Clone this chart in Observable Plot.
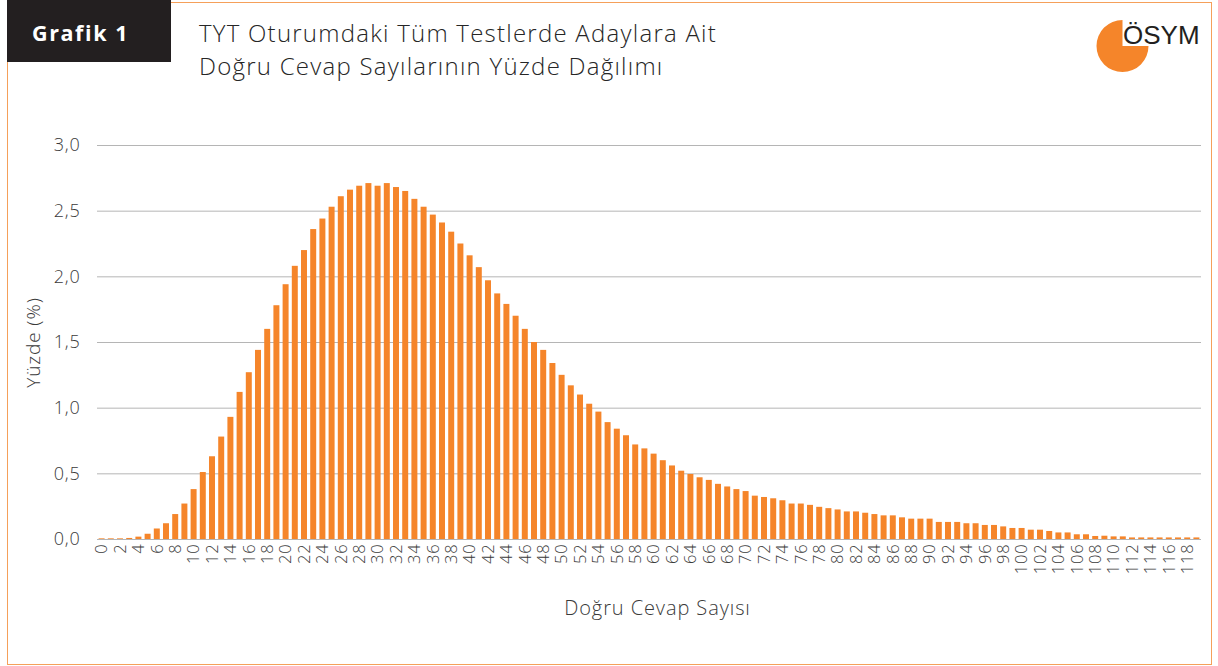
<!DOCTYPE html>
<html><head><meta charset="utf-8">
<script src="https://cdn.jsdelivr.net/npm/d3@7"></script>
<script src="https://cdn.jsdelivr.net/npm/@observablehq/plot@0.6"></script>
<style>
body{margin:0;background:#fff;font-family:"Open Sans",Lato,sans-serif;}
#page{position:relative;width:1218px;height:666px;overflow:hidden;background:#fff;}
#frame{position:absolute;left:7px;top:2px;width:1205px;height:663px;border:1.5px solid #f5a05a;box-sizing:border-box;}
#badge{position:absolute;left:7px;top:0;width:164px;height:62px;background:#231f20;}
#badgeText{position:absolute;left:32px;top:19px;color:#fff;font-weight:700;font-size:21.5px;line-height:28px;letter-spacing:1.6px;white-space:nowrap;}
.title{position:absolute;left:199px;font-size:24px;line-height:33px;color:#262626;font-weight:300;letter-spacing:1.24px;white-space:nowrap;}
#t1{top:15.5px;}
#t2{top:48.7px;}
#chart{position:absolute;left:0;top:100px;}
#logo{position:absolute;left:0;top:0;}
</style></head>
<body>
<div id="page">
  <div id="frame"></div>
  <div id="badge"></div>
  <div id="badgeText">Grafik 1</div>
  <div class="title" id="t1">TYT Oturumdaki Tüm Testlerde Adaylara Ait</div>
  <div class="title" id="t2">Doğru Cevap Sayılarının Yüzde Dağılımı</div>
  <svg id="logo" width="1218" height="90">
    <path d="M1122.5,46 L1122.5,20 A26,26 0 1 0 1148.5,46 Z" fill="#f5852a"></path>
    <text x="1123" y="43.5" font-family="'Liberation Sans',Arial,sans-serif" font-size="26" fill="#231f20">ÖSYM</text>
  </svg>
  <div id="chart"></div>
</div>
<script>
const yLabel = "Yüzde (%)";
const xLabel = "Doğru Cevap Sayısı";

// categories: number of correct answers 0..119
const categories = [
  0,1,2,3,4,5,6,7,8,9,10,11,12,13,14,15,16,17,18,19,
  20,21,22,23,24,25,26,27,28,29,30,31,32,33,34,35,36,37,38,39,
  40,41,42,43,44,45,46,47,48,49,50,51,52,53,54,55,56,57,58,59,
  60,61,62,63,64,65,66,67,68,69,70,71,72,73,74,75,76,77,78,79,
  80,81,82,83,84,85,86,87,88,89,90,91,92,93,94,95,96,97,98,99,
  100,101,102,103,104,105,106,107,108,109,110,111,112,113,114,115,116,117,118,119
];
// percentage of candidates
const percents = [
  0.005,0.005,0.005,0.008,0.018,0.04,0.08,0.12,0.19,0.27,
  0.38,0.51,0.63,0.78,0.93,1.12,1.27,1.44,1.60,1.78,
  1.94,2.08,2.20,2.36,2.44,2.53,2.61,2.66,2.69,2.71,
  2.69,2.71,2.68,2.65,2.59,2.53,2.47,2.41,2.34,2.25,
  2.16,2.07,1.97,1.87,1.79,1.70,1.60,1.50,1.44,1.34,
  1.25,1.17,1.10,1.03,0.97,0.89,0.84,0.79,0.72,0.69,
  0.65,0.60,0.56,0.52,0.495,0.47,0.45,0.42,0.40,0.38,
  0.365,0.33,0.32,0.31,0.295,0.27,0.27,0.26,0.245,0.235,
  0.225,0.21,0.21,0.20,0.19,0.18,0.18,0.165,0.155,0.155,
  0.155,0.13,0.13,0.13,0.12,0.12,0.107,0.107,0.096,0.084,
  0.084,0.071,0.071,0.061,0.05,0.05,0.036,0.036,0.023,0.025,
  0.02,0.02,0.012,0.012,0.012,0.012,0.012,0.012,0.012,0.012
];
// x tick positions and labels (every other category)
const xTicks = [0,2,4,6,8,10,12,14,16,18,20,22,24,26,28,30,32,34,36,38,40,42,44,46,48,50,52,54,56,58,60,62,64,66,68,70,72,74,76,78,80,82,84,86,88,90,92,94,96,98,100,102,104,106,108,110,112,114,116,118];
const xTickLabels = ["0","2","4","6","8","10","12","14","16","18","20","22","24","26","28","30","32","34","36","38","40","42","44","46","48","50","52","54","56","58","60","62","64","66","68","70","72","74","76","78","80","82","84","86","88","90","92","94","96","98","100","102","104","106","108","110","112","114","116","118"];
const yTicks = [0,0.5,1,1.5,2,2.5,3];
const yTickLabels = ["0,0","0,5","1,0","1,5","2,0","2,5","3,0"];

const data = categories.map((c,i)=>({k:c, v:percents[i]}));

const chart = Plot.plot({
  width: 1218, height: 540,
  marginLeft: 97, marginRight: 17, marginTop: 45, marginBottom: 101,
  style: {fontFamily: "'Open Sans', Lato, sans-serif", color: "#3a3a3a", background: "transparent", overflow: "visible"},
  x: {type: "band", domain: categories, paddingInner: 0.35, paddingOuter: 0.175, round: false},
  y: {domain: [0, 3]},
  marks: [
    Plot.ruleY(yTicks, {stroke: "#b5b5b5", strokeWidth: 1}),
    Plot.barY(data, {x: "k", y: "v", fill: "#f5852a"}),
    Plot.axisY(yTicks, {tickSize: 0, tickPadding: 17, fontSize: 18, fontWeight: 300, label: null,
      tickFormat: d => yTickLabels[yTicks.indexOf(d)]}),
    Plot.axisX(xTicks, {tickSize: 0, tickPadding: 4, tickRotate: -90, fontSize: 16.5, fontWeight: 300, label: null,
      tickFormat: d => xTickLabels[xTicks.indexOf(d)]}),
    Plot.text([yLabel], {frameAnchor: "left", dx: -64, rotate: -90, textAnchor: "middle", fontSize: 19, fontWeight: 300, fill: "#3a3a3a"}),
    Plot.text([xLabel], {frameAnchor: "bottom", dx: 8, dy: 69, textAnchor: "middle", lineAnchor: "middle", fontSize: 20, fontWeight: 300, fill: "#3a3a3a"})
  ]
});
d3.select(chart).selectAll("text")
  .filter(function(){ return this.textContent === xLabel || this.textContent === yLabel; })
  .attr("letter-spacing", "0.9px");
d3.select(chart).selectAll("g[aria-label='y-axis tick label'] text, g[aria-label='x-axis tick label'] text")
  .attr("letter-spacing", "0.8px");
document.getElementById("chart").appendChild(chart);
</script>
</body></html>
